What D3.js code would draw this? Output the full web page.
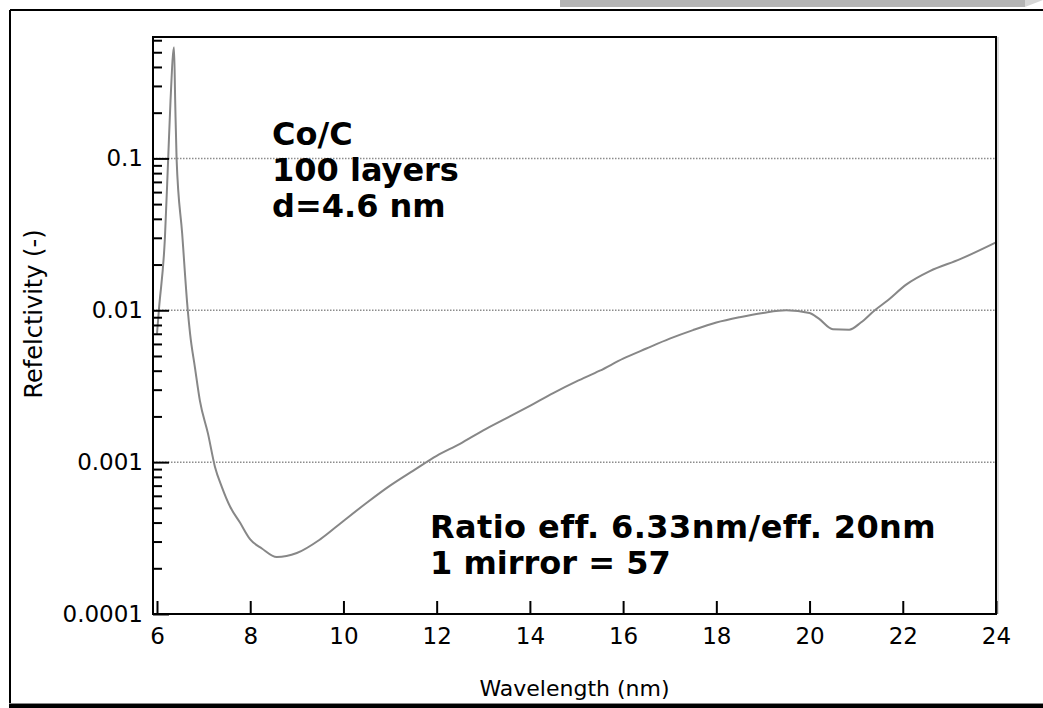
<!DOCTYPE html>
<html><head><meta charset="utf-8">
<script src="https://cdn.jsdelivr.net/npm/d3@7"></script>
<style>html,body{margin:0;padding:0;background:#fff;}svg{display:block;}</style>
</head><body>
<svg id="c" width="1043" height="708"></svg>
<script>
// ---- data ----
const wavelength = [6.00, 6.04, 6.17, 6.24, 6.29, 6.365, 6.39, 6.42, 6.54, 6.66, 6.71, 6.815, 6.92, 7.094, 7.244, 7.388, 7.567, 7.78, 8.0, 8.25, 8.57, 9.0, 9.5, 10.0, 10.5, 11.0, 11.5, 12.0, 12.5, 13.0, 13.5, 14.0, 14.5, 15.0, 15.5, 16.0, 16.5, 17.0, 17.5, 18.0, 18.5, 19.0, 19.5, 20.0, 20.2, 20.5, 20.85, 21.1, 21.4, 21.66, 22.08, 22.58, 23.23, 24.0];
const reflectivity = [0.0070, 0.010, 0.030, 0.10, 0.24, 0.54, 0.24, 0.10, 0.032, 0.010, 0.0070, 0.00418, 0.00254, 0.00154, 0.00093, 0.00069, 0.00051, 0.00040, 0.00031, 0.00027, 0.000237, 0.000252, 0.000310, 0.000410, 0.000540, 0.000700, 0.000880, 0.00110, 0.00132, 0.00162, 0.00195, 0.00235, 0.00285, 0.00340, 0.00400, 0.00480, 0.00560, 0.00650, 0.00740, 0.00830, 0.00900, 0.00960, 0.01000, 0.00960, 0.00880, 0.00750, 0.00745, 0.00830, 0.0100, 0.0115, 0.0148, 0.0181, 0.0217, 0.0280];
const xTicks = [6, 8, 10, 12, 14, 16, 18, 20, 22, 24];
const yMajor = [0.0001, 0.001, 0.01, 0.1];
const yLabels = ["0.0001", "0.001", "0.01", "0.1"];
const gridValues = [0.001, 0.01, 0.1];
const annotTop = ["Co/C", "100 layers", "d=4.6 nm"];
const annotBottom = ["Ratio eff. 6.33nm/eff. 20nm", "1 mirror = 57"];
const xTitle = "Wavelength (nm)";
const yTitle = "Refelctivity (-)";

// ---- layout ----
const svg = d3.select("#c");
const L = 153, R = 996, T = 37, B = 614;
const x = d3.scaleLinear().domain([6, 24]).range([157, 996]);
const y = d3.scaleLog().domain([1e-4, 0.63]).range([B, T]);

// decorative chrome
svg.append("polygon").attr("points", "560,0 1025,0 1025,7 560,7").attr("fill", "#b4b4b4");
svg.append("polygon").attr("points", "1025,0 1043,0 1025,7").attr("fill", "#d6d6d6");
svg.append("line").attr("x1", 10).attr("x2", 1043).attr("y1", 10).attr("y2", 10).attr("stroke", "#000").attr("stroke-width", 2);
svg.append("line").attr("x1", 10).attr("x2", 10).attr("y1", 10).attr("y2", 704).attr("stroke", "#000").attr("stroke-width", 2);
svg.append("rect").attr("x", 9).attr("y", 703).attr("width", 1034).attr("height", 1).attr("fill", "#888");
svg.append("rect").attr("x", 9).attr("y", 704).attr("width", 1034).attr("height", 4).attr("fill", "#000");

// gridlines
svg.append("g").selectAll("line").data(gridValues).join("line")
  .attr("x1", L).attr("x2", R).attr("y1", d => y(d)).attr("y2", d => y(d))
  .attr("stroke", "#8c8c8c").attr("stroke-width", 1.5).attr("stroke-dasharray", "1.5,1.5");

// curve
const pts = wavelength.map((w, i) => [w, reflectivity[i]]);
svg.append("path").datum(pts)
  .attr("d", d3.line().x(d => x(d[0])).y(d => y(d[1])).curve(d3.curveMonotoneX))
  .attr("fill", "none").attr("stroke", "#878787").attr("stroke-width", 2);

// frame
svg.append("rect").attr("x", L).attr("y", T).attr("width", R - L).attr("height", B - T)
  .attr("fill", "none").attr("stroke", "#000").attr("stroke-width", 2);
svg.append("line").attr("x1", R + 2).attr("x2", R + 2).attr("y1", T).attr("y2", B)
  .attr("stroke", "#bbb").attr("stroke-width", 1);

const fontT = "'DejaVu Sans', sans-serif";

// x axis: inward ticks + labels
const xa = svg.append("g").attr("transform", `translate(0,${B})`)
  .call(d3.axisTop(x).tickValues(xTicks).tickSize(13).tickFormat(""));
xa.select(".domain").remove();
xa.selectAll("line").attr("stroke", "#000").attr("stroke-width", 2);
const xl = svg.append("g").attr("transform", `translate(0,${B})`)
  .call(d3.axisBottom(x).tickValues(xTicks).tickSize(0).tickPadding(14));
xl.select(".domain").remove();
xl.selectAll("text").attr("font-family", fontT).attr("font-size", 23).attr("fill", "#000").attr("dy", "0.71em");

// y axis: minor + major inward ticks
const minor = [];
for (let e = -4; e <= -1; e++) for (let m = 2; m <= 9; m++) { const v = m * Math.pow(10, e); if (v <= 0.6 + 1e-9) minor.push(v); }
const ym = svg.append("g").attr("transform", `translate(${L},0)`)
  .call(d3.axisRight(y).tickValues(minor).tickSize(9).tickFormat(""));
ym.select(".domain").remove();
ym.selectAll("line").attr("stroke", "#000").attr("stroke-width", 2);
const yM = svg.append("g").attr("transform", `translate(${L},0)`)
  .call(d3.axisRight(y).tickValues(yMajor).tickSize(16).tickFormat(""));
yM.select(".domain").remove();
yM.selectAll("line").attr("stroke", "#000").attr("stroke-width", 2);
const yl = svg.append("g").attr("transform", `translate(${L},0)`)
  .call(d3.axisLeft(y).tickValues(yMajor).tickSize(0).tickPadding(10).tickFormat((d, i) => yLabels[i]));
yl.select(".domain").remove();
yl.selectAll("text").attr("font-family", fontT).attr("font-size", 23).attr("fill", "#000");

// axis titles
svg.append("text").attr("x", (L + R) / 2).attr("y", 696).attr("text-anchor", "middle")
  .attr("font-family", fontT).attr("font-size", 22).attr("fill", "#000").text(xTitle);
svg.append("text").attr("transform", `translate(42,314) rotate(-90)`).attr("text-anchor", "middle")
  .attr("font-family", fontT).attr("font-size", 24).attr("fill", "#000").text(yTitle);

// annotations
const fontB = "'DejaVu Sans', sans-serif";
svg.append("g").selectAll("text").data(annotTop).join("text")
  .attr("x", 272).attr("y", (d, i) => 145 + i * 36)
  .attr("font-family", fontB).attr("font-weight", "bold").attr("font-size", 32).attr("fill", "#000").text(d => d);
svg.append("g").selectAll("text").data(annotBottom).join("text")
  .attr("x", 430).attr("y", (d, i) => 538 + i * 36)
  .attr("font-family", fontB).attr("font-weight", "bold").attr("font-size", 32)
  .attr("letter-spacing", (d, i) => i === 0 ? 0.4 : 0).attr("fill", "#000").text(d => d);
</script>
</body></html>
